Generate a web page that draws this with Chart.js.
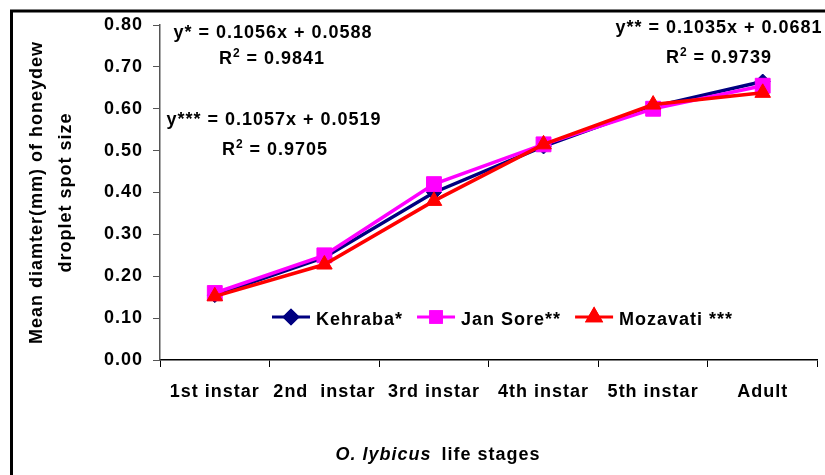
<!DOCTYPE html>
<html>
<head>
<meta charset="utf-8">
<script src="https://cdn.jsdelivr.net/npm/chart.js@4.4.1/dist/chart.umd.min.js"></script>
<style>
  html, body { margin: 0; padding: 0; background: #fff; overflow: hidden; }
  #wrap { position: relative; width: 829px; height: 475px; }
</style>
</head>
<body>
<div id="wrap"><canvas id="c"></canvas></div>
<script>
// ---- data ----
const stages = ['1st instar', '2nd  instar', '3rd instar', '4th instar', '5th instar', 'Adult'];
const seriesNames = ['Kehraba*', 'Jan Sore**', 'Mozavati ***'];
const kehraba  = [0.155, 0.245, 0.400, 0.510, 0.605, 0.665];
const janSore  = [0.160, 0.250, 0.420, 0.515, 0.600, 0.655];
const mozavati = [0.152, 0.228, 0.380, 0.515, 0.610, 0.638];
const yMin = 0, yMax = 0.8, yStep = 0.1;
const equations = ['y* = 0.1056x + 0.0588', 'y*** = 0.1057x + 0.0519', 'y** = 0.1035x + 0.0681'];
const rSquared  = ['0.9841', '0.9705', '0.9739'];
const yTitle = ['Mean diamter(mm) of honeydew', 'droplet spot size'];
const xTitleItalic = 'O. lybicus';
const xTitleRest = 'life stages';

const FONT = '"Liberation Sans", Arial, Helvetica, sans-serif';
const SPACING = '1px';

const spacingPlugin = {
  id: 'spacing',
  beforeInit(c) { c.ctx.letterSpacing = SPACING; },
  beforeUpdate(c) { c.ctx.letterSpacing = SPACING; },
  beforeLayout(c) { c.ctx.letterSpacing = SPACING; },
  beforeDraw(c) { c.ctx.letterSpacing = SPACING; }
};

function drawR2(ctx, cx, baseline, val) {
  const big = 'bold 18px ' + FONT, small = 'bold 12px ' + FONT;
  ctx.font = big; const wR = ctx.measureText('R').width;
  const rest = ' = ' + val; const wRest = ctx.measureText(rest).width;
  ctx.font = small; const w2 = ctx.measureText('2').width;
  let x = cx - (wR + w2 + wRest) / 2;
  ctx.textAlign = 'left'; ctx.textBaseline = 'alphabetic';
  ctx.font = big; ctx.fillText('R', x, baseline); x += wR;
  ctx.font = small; ctx.fillText('2', x, baseline - 7); x += w2;
  ctx.font = big; ctx.fillText(rest, x, baseline);
}

const decorPlugin = {
  id: 'decor',
  beforeDraw(c) {
    const ctx = c.ctx;
    ctx.save();
    ctx.fillStyle = '#fff';
    ctx.fillRect(0, 0, c.width, c.height);
    ctx.restore();
  },
  afterDraw(c) {
    const ctx = c.ctx;
    ctx.save();
    ctx.letterSpacing = SPACING;
    // frame
    ctx.strokeStyle = '#000'; ctx.lineWidth = 3;
    ctx.beginPath();
    ctx.moveTo(11.5, 480); ctx.lineTo(11.5, 11); ctx.lineTo(840, 11);
    ctx.stroke();

    ctx.fillStyle = '#000';
    // equations
    ctx.font = 'bold 18px ' + FONT;
    ctx.textAlign = 'center'; ctx.textBaseline = 'alphabetic';
    ctx.fillText(equations[0], 273, 38);
    drawR2(ctx, 272, 64, rSquared[0]);
    ctx.font = 'bold 18px ' + FONT; ctx.textAlign = 'center';
    ctx.fillText(equations[1], 274, 125);
    drawR2(ctx, 275, 155, rSquared[1]);
    ctx.font = 'bold 18px ' + FONT; ctx.textAlign = 'center';
    ctx.fillText(equations[2], 719, 33);
    drawR2(ctx, 719, 63, rSquared[2]);

    // x axis title
    ctx.textAlign = 'left';
    ctx.font = 'italic bold 18px ' + FONT;
    const wi = ctx.measureText(xTitleItalic).width;
    ctx.font = 'bold 18px ' + FONT;
    const wr = ctx.measureText(xTitleRest).width;
    const gap = 10;
    let x0 = 438 - (wi + gap + wr) / 2;
    ctx.font = 'italic bold 18px ' + FONT;
    ctx.fillText(xTitleItalic, x0, 460);
    ctx.font = 'bold 18px ' + FONT;
    ctx.fillText(xTitleRest, x0 + wi + gap, 460);

    // legend inside plot
    const ly = 317, lineLen = 38;
    let lx = 272;
    c.data.datasets.forEach((ds) => {
      ctx.strokeStyle = ds.borderColor; ctx.lineWidth = 3;
      ctx.beginPath(); ctx.moveTo(lx, ly); ctx.lineTo(lx + lineLen, ly); ctx.stroke();
      Chart.helpers.drawPoint(ctx, {
        pointStyle: ds.pointStyle, radius: ds.legendRadius, rotation: 0, borderWidth: 1
      }, lx + lineLen / 2, ly);
      ctx.fillStyle = ds.backgroundColor;
      ctx.strokeStyle = ds.borderColor;
      ctx.beginPath();
      // fill marker
      drawMarker(ctx, ds.pointStyle, ds.legendRadius, lx + lineLen / 2, ly);
      ctx.fillStyle = '#000';
      ctx.font = 'bold 18px ' + FONT; ctx.textAlign = 'left'; ctx.textBaseline = 'alphabetic';
      ctx.fillText(ds.label, lx + lineLen + 6, 325);
      lx += lineLen + 6 + ctx.measureText(ds.label).width + 14;
    });
    ctx.restore();
  }
};

function drawMarker(ctx, style, r, x, y) {
  ctx.save();
  Chart.helpers.drawPoint(ctx, { pointStyle: style, radius: r, rotation: 0, borderWidth: 1 }, x, y);
  ctx.restore();
}

const ctx = document.getElementById('c').getContext('2d');
const chart = new Chart(ctx, {
  type: 'line',
  data: {
    labels: stages,
    datasets: [
      { label: seriesNames[0], data: kehraba, borderColor: '#000080', backgroundColor: '#000080',
        borderWidth: 3.5, pointStyle: 'rectRot', pointRadius: 7.5, pointBorderWidth: 1, legendRadius: 6.5, order: 2 },
      { label: seriesNames[1], data: janSore, borderColor: '#FF00FF', backgroundColor: '#FF00FF',
        borderWidth: 3.5, pointStyle: 'rect', pointRadius: 10.5, pointBorderWidth: 1, legendRadius: 7.5, order: 1 },
      { label: seriesNames[2], data: mozavati, borderColor: '#FF0000', backgroundColor: '#FF0000',
        borderWidth: 3.5, pointStyle: 'triangle', pointRadius: 9, pointBorderWidth: 1, legendRadius: 7.5, order: 0 }
    ]
  },
  options: {
    responsive: true,
    maintainAspectRatio: false,
    animation: false,
    devicePixelRatio: 1,
    layout: { padding: { top: 25, left: 0, right: 0, bottom: 0 } },
    plugins: { legend: { display: false }, tooltip: { enabled: false } },
    elements: { line: { tension: 0 } },
    scales: {
      x: {
        type: 'category',
        offset: true,
        grid: { offset: true, drawOnChartArea: false, drawTicks: true, tickLength: 7, color: '#000', lineWidth: 1 },
        border: { color: '#000', width: 1.5 },
        ticks: { color: '#000', font: { family: FONT, size: 18, weight: 'bold' }, padding: 14, maxRotation: 0, autoSkip: false },
        afterFit(s) { s.height = 115; }
      },
      y: {
        min: yMin, max: yMax,
        grid: { drawOnChartArea: false, drawTicks: true, tickLength: 7, color: '#555', lineWidth: 1 },
        border: { color: '#555', width: 1.5 },
        ticks: { stepSize: yStep, color: '#000', font: { family: FONT, size: 18, weight: 'bold' }, padding: 10,
                 callback: (v) => Number(v).toFixed(2) },
        title: { display: true, text: yTitle, color: '#000',
                 font: { family: FONT, size: 18, weight: 'bold', lineHeight: '29px' }, padding: { top: 23, bottom: 0 } },
        afterFit(s) { s.width = 160; }
      }
    }
  },
  plugins: [spacingPlugin, decorPlugin]
});
</script>
</body>
</html>
